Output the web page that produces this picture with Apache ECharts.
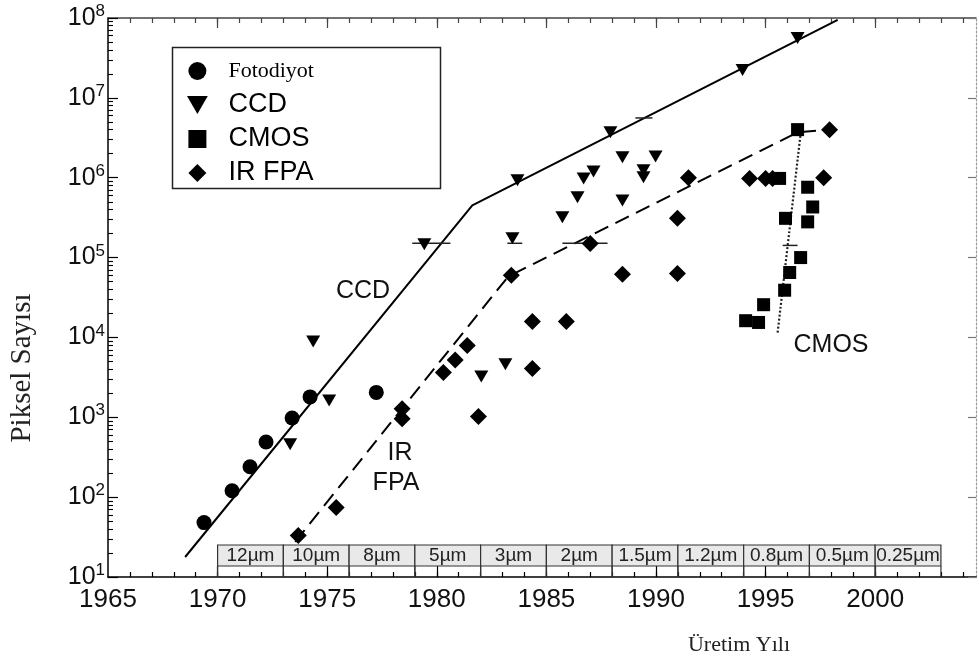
<!DOCTYPE html>
<html>
<head>
<meta charset="utf-8">
<script src="https://cdn.jsdelivr.net/npm/echarts@6/dist/echarts.min.js"></script>
<style>
html,body{margin:0;padding:0;background:#fff;}
#chart{width:979px;height:666px;}
</style>
</head>
<body>
<div id="chart"></div>
<script>
// ---- data ----
const fotoYears  = [1969.38, 1970.66, 1971.48, 1972.21, 1973.4, 1974.22, 1977.24];
const fotoPixels = [48, 120, 240, 490, 980, 1800, 2050];

const ccdYears  = [1973.31, 1974.36, 1975.09, 1979.43, 1982.03, 1983.13, 1983.45, 1983.68, 1985.73, 1986.42, 1986.7, 1987.15, 1987.92, 1988.47, 1988.47, 1989.43, 1989.43, 1989.98, 1993.95, 1996.46];
const ccdPixels = [460, 8900, 1620, 1.47e5, 3240, 4600, 1.75e5, 9.3e5, 3.2e5, 5.7e5, 9.8e5, 1.2e6, 3.7e6, 1.8e6, 5.2e5, 1.24e6, 1.01e6, 1.85e6, 2.24e7, 5.6e7];

const cmosYears  = [1994.09, 1994.68, 1994.91, 1995.87, 1996.1, 1996.6, 1995.91, 1996.92, 1997.15, 1996.92, 1995.64, 1996.46];
const cmosPixels = [1.62e4, 1.54e4, 2.57e4, 3.9e4, 6.5e4, 1.0e5, 3.1e5, 2.8e5, 4.3e5, 7.6e5, 9.8e5, 4.0e6];

const irYears  = [1973.68, 1975.41, 1978.42, 1978.42, 1980.3, 1980.84, 1981.39, 1981.9, 1983.4, 1984.36, 1984.36, 1985.91, 1987.0, 1988.47, 1990.98, 1990.98, 1991.48, 1994.27, 1995.0, 1995.32, 1997.65, 1997.92];
const irPixels = [33, 74, 1280, 960, 3630, 5200, 7900, 1020, 6.0e4, 1.58e4, 4070, 1.58e4, 1.5e5, 6.2e4, 3.1e5, 6.3e4, 1.0e6, 9.8e5, 9.8e5, 9.8e5, 1.0e6, 4.0e6];

const ccdTrendYears  = [1968.52, 1981.62, 1998.29];
const ccdTrendPixels = [17.8, 4.5e5, 9.5e7];
const irTrendYears   = [1973.54, 1983.26, 1996.46, 1997.92];
const irTrendPixels  = [27.6, 5.8e4, 3.7e6, 4.0e6];
const cmosTrendYears  = [1995.55, 1996.6];
const cmosTrendPixels = [1.15e4, 3.6e6];

// horizontal bars: [from year, to year, pixel count]
const barFrom   = [1978.88, 1983.22, 1985.73, 1989.06, 1995.78];
const barTo     = [1980.62, 1983.9, 1987.79, 1989.84, 1996.46];
const barPixels = [1.51e5, 1.51e5, 1.51e5, 5.6e6, 1.42e5];

// process-node band
const nodeBounds = [1970, 1973, 1976, 1979, 1982, 1985, 1988, 1991, 1994, 1997, 2000, 2003];
const nodeLabels = ['12µm', '10µm', '8µm', '5µm', '3µm', '2µm', '1.5µm', '1.2µm', '0.8µm', '0.5µm', '0.25µm'];

const xLabelValues = [1965, 1970, 1975, 1980, 1985, 1990, 1995, 2000];
const yLabelValues = [1e1, 1e2, 1e3, 1e4, 1e5, 1e6, 1e7, 1e8];

const legendNames = ['Fotodiyot', 'CCD', 'CMOS', 'IR FPA'];

// ---- helpers ----
const zip = (a, b) => a.map((v, i) => [v, b[i]]);
const yearTicks = [];
for (let y = 1966; y <= 2004; y++) yearTicks.push(y);
const yMinor = [];
for (let e = 1; e < 8; e++) for (let m = 2; m <= 9; m++) yMinor.push(m * Math.pow(10, e));

const SANS = '"Liberation Sans", Arial, sans-serif';
const SERIF = '"Liberation Serif", "Times New Roman", serif';
const INK = '#000';

const SYM_TRI = 'path://M0,0L10,0L5,8.66Z';
const SYM_SQ = 'path://M0,0L10,0L10,10L0,10Z';
const SYM_DIA = 'path://M5,0L10,5L5,10L0,5Z';
const SYM_CIR = 'circle';

const tableData = nodeLabels.map((l, i) => [nodeBounds[i], nodeBounds[i + 1], 10]);
const barData = barFrom.map((v, i) => [v, barTo[i], barPixels[i]]);

const chart = echarts.init(document.getElementById('chart'), null, {renderer: 'canvas'});

const grid = {left: 108, right: 3, top: 18, bottom: 89};
const xBase = {type: 'value', min: 1965, max: 2004.6, splitLine: {show: false}};
const yBase = {type: 'log', logBase: 10, min: 10, max: 1e8, splitLine: {show: false}};

const markerStyle = {color: INK, opacity: 1};

const option = {
  animation: false,
  backgroundColor: '#fff',
  grid: grid,
  legend: {
    orient: 'vertical',
    left: 187, top: 56,
    padding: 0,
    itemGap: 4,
    itemWidth: 52, itemHeight: 18,
    selectedMode: false,
    itemStyle: {opacity: 1},
    data: [
      {name: 'Fotodiyot', textStyle: {fontFamily: SERIF, fontSize: 22, lineHeight: 30, color: INK}},
      {name: 'CCD', textStyle: {fontFamily: SANS, fontSize: 27, lineHeight: 30, color: INK}},
      {name: 'CMOS', textStyle: {fontFamily: SANS, fontSize: 27, lineHeight: 30, color: INK}},
      {name: 'IR FPA', textStyle: {fontFamily: SANS, fontSize: 27, lineHeight: 30, color: INK}}
    ]
  },
  xAxis: [
    Object.assign({}, xBase, {
      position: 'bottom',
      axisLine: {show: true, lineStyle: {color: INK, width: 1.5}},
      axisTick: {show: true, inside: true, length: 11, lineStyle: {color: INK, width: 1.2}, customValues: xLabelValues.slice(1)},
      axisLabel: {show: true, customValues: xLabelValues, fontFamily: SANS, fontSize: 26, color: '#111', margin: 10,
        formatter: function (v) { return String(Math.round(v)); }}
    }),
    Object.assign({}, xBase, {
      position: 'bottom',
      axisLine: {show: false},
      axisTick: {show: true, inside: true, length: 5, lineStyle: {color: INK, width: 1.2}, customValues: yearTicks},
      axisLabel: {show: false}
    }),
    Object.assign({}, xBase, {
      position: 'top',
      axisLine: {show: true, lineStyle: {color: '#444', width: 1.5}},
      axisTick: {show: true, inside: true, length: 10, lineStyle: {color: '#444', width: 1.2}, customValues: xLabelValues.slice(1)},
      axisLabel: {show: false}
    }),
    Object.assign({}, xBase, {
      position: 'top',
      axisLine: {show: false},
      axisTick: {show: true, inside: true, length: 5, lineStyle: {color: '#444', width: 1.2}, customValues: yearTicks},
      axisLabel: {show: false}
    })
  ],
  yAxis: [
    Object.assign({}, yBase, {
      position: 'left',
      axisLine: {show: true, lineStyle: {color: INK, width: 1.5}},
      axisTick: {show: true, inside: true, length: 10, lineStyle: {color: INK, width: 1.2}, customValues: yLabelValues},
      axisLabel: {
        show: true, customValues: yLabelValues, margin: 3,
        fontFamily: SANS, fontSize: 25, color: '#111',
        formatter: function (v) { return '{b|10}{s|' + Math.round(Math.log10(v)) + '}'; },
        rich: {
          b: {fontFamily: SANS, fontSize: 25, lineHeight: 30, color: '#111'},
          s: {fontFamily: SANS, fontSize: 17, lineHeight: 14, color: '#111', verticalAlign: 'top'}
        }
      }
    }),
    Object.assign({}, yBase, {
      position: 'left',
      axisLine: {show: false},
      axisTick: {show: true, inside: true, length: 5, lineStyle: {color: INK, width: 1.1}, customValues: yMinor},
      axisLabel: {show: false}
    }),
    Object.assign({}, yBase, {
      position: 'right',
      axisLine: {show: true, lineStyle: {color: '#999', width: 1.2, type: [2, 2]}},
      axisTick: {show: true, inside: true, length: 8, lineStyle: {color: '#777', width: 1.2}, customValues: yLabelValues},
      axisLabel: {show: false}
    })
  ],
  series: [
    {
      name: 'ccdTrend', type: 'line', data: zip(ccdTrendYears, ccdTrendPixels),
      showSymbol: false, symbol: 'none', z: 2, silent: true,
      lineStyle: {color: INK, width: 2}
    },
    {
      name: 'irTrend', type: 'line', data: zip(irTrendYears, irTrendPixels),
      showSymbol: false, symbol: 'none', z: 2, silent: true,
      lineStyle: {color: INK, width: 2, type: [15, 8]}
    },
    {
      name: 'cmosTrend', type: 'line', data: zip(cmosTrendYears, cmosTrendPixels),
      showSymbol: false, symbol: 'none', z: 2, silent: true,
      lineStyle: {color: '#222', width: 2.2, type: [2, 2]}
    },
    {
      name: 'bars', type: 'custom', data: barData, z: 3, silent: true,
      encode: {x: [0, 1], y: 2},
      renderItem: function (params, api) {
        const p0 = api.coord([api.value(0), api.value(2)]);
        const p1 = api.coord([api.value(1), api.value(2)]);
        return {type: 'line', shape: {x1: p0[0], y1: p0[1], x2: p1[0], y2: p1[1]}, style: {stroke: '#222', lineWidth: 1.5}};
      }
    },
    {
      name: 'nodes', type: 'custom', data: tableData, z: 1, silent: true,
      encode: {x: [0, 1], y: 2},
      renderItem: function (params, api) {
        const p0 = api.coord([api.value(0), api.value(2)]);
        const p1 = api.coord([api.value(1), api.value(2)]);
        const yb = p0[1];
        return {
          type: 'group',
          children: [
            {type: 'rect', shape: {x: p0[0], y: yb - 32, width: p1[0] - p0[0], height: 21},
             style: {fill: '#e9e9e9', stroke: '#333', lineWidth: 1.2}},
            {type: 'line', shape: {x1: p0[0], y1: yb - 11, x2: p0[0], y2: yb}, style: {stroke: '#333', lineWidth: 1.2}},
            {type: 'line', shape: {x1: p1[0], y1: yb - 11, x2: p1[0], y2: yb}, style: {stroke: '#333', lineWidth: 1.2}},
            {type: 'text', style: {text: nodeLabels[params.dataIndex], x: (p0[0] + p1[0]) / 2, y: yb - 21,
              align: 'center', verticalAlign: 'middle', font: '19px ' + SANS, fill: '#222'}}
          ]
        };
      }
    },
    {
      name: 'Fotodiyot', type: 'scatter', data: zip(fotoYears, fotoPixels), z: 5,
      symbol: SYM_CIR, symbolSize: 15, itemStyle: markerStyle
    },
    {
      name: 'CCD', type: 'scatter', data: zip(ccdYears, ccdPixels), z: 5,
      symbol: SYM_TRI, symbolSize: [14, 12], itemStyle: markerStyle
    },
    {
      name: 'CMOS', type: 'scatter', data: zip(cmosYears, cmosPixels), z: 5,
      symbol: SYM_SQ, symbolSize: 13, itemStyle: markerStyle
    },
    {
      name: 'IR FPA', type: 'scatter', data: zip(irYears, irPixels), z: 5,
      symbol: SYM_DIA, symbolSize: [17, 17], itemStyle: markerStyle
    }
  ],
  graphic: [
    {type: 'rect', left: 170, top: 45, shape: {x: 0, y: 0, width: 268, height: 141},
     style: {fill: null, stroke: '#222', lineWidth: 1.5}, z: 10, silent: true},
    {type: 'text', x: 363, y: 291, style: {text: 'CCD', font: '25px ' + SANS, fill: '#111', align: 'center', verticalAlign: 'middle'}, z: 10},
    {type: 'text', x: 400, y: 453, style: {text: 'IR', font: '25px ' + SANS, fill: '#111', align: 'center', verticalAlign: 'middle'}, z: 10},
    {type: 'text', x: 396, y: 483, style: {text: 'FPA', font: '25px ' + SANS, fill: '#111', align: 'center', verticalAlign: 'middle'}, z: 10},
    {type: 'text', x: 831, y: 345, style: {text: 'CMOS', font: '25px ' + SANS, fill: '#111', align: 'center', verticalAlign: 'middle'}, z: 10},
    {type: 'text', x: 22, y: 368, rotation: Math.PI / 2,
     style: {text: 'Piksel Sayısı', font: '29px ' + SERIF, fill: '#222', align: 'center', verticalAlign: 'middle'}, z: 10},
    {type: 'text', x: 739, y: 645,
     style: {text: 'Üretim Yılı', font: '22px ' + SERIF, fill: '#222', align: 'center', verticalAlign: 'middle'}, z: 10}
  ]
};

chart.setOption(option);
</script>
</body>
</html>
